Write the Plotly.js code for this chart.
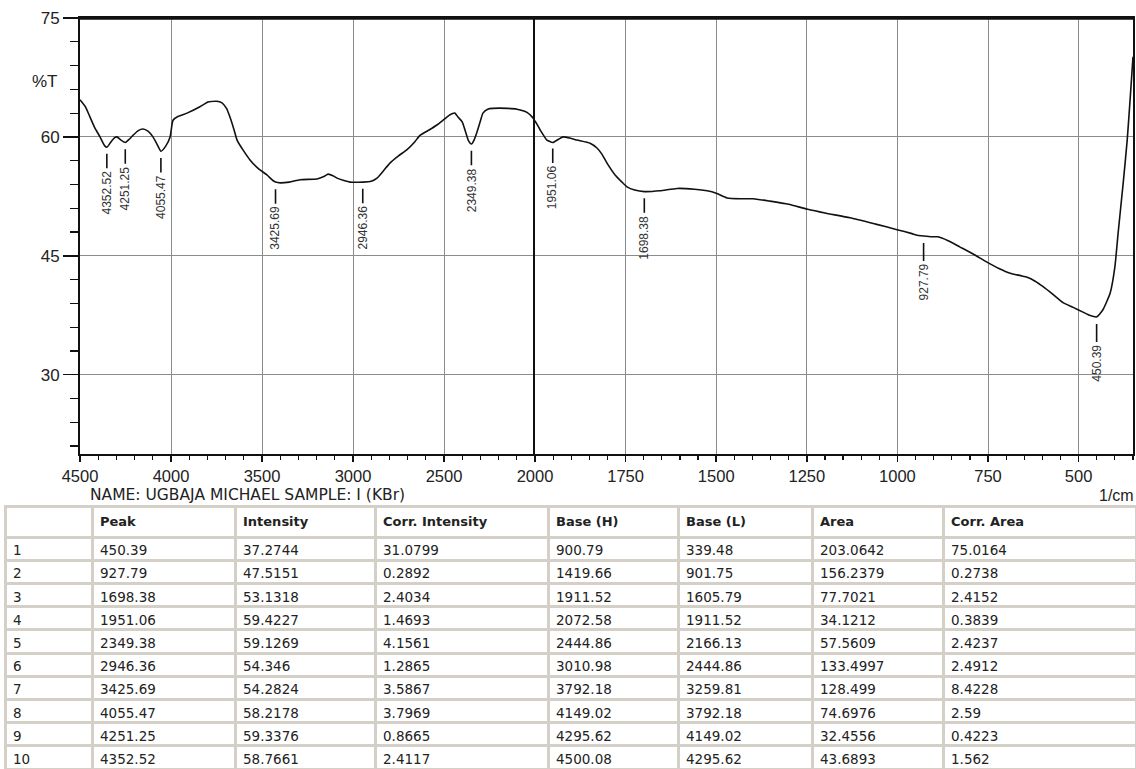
<!DOCTYPE html>
<html>
<head>
<meta charset="utf-8">
<script src="https://cdn.plot.ly/plotly-3.0.1.min.js"></script>
<style>html,body{margin:0;padding:0;background:#fff;}#chart{width:1136px;height:769px;}</style>
</head>
<body>
<div id="chart"></div>
<script>
// Spectrum (wavenumber 1/cm, %T)
const wavenumber = [4500,4470,4445,4420,4390,4365,4352,4335,4310,4297,4275,4251,4230,4209,4180,4154,4125,4099,4075,4055,4030,4005,3989,3960,3912,3841,3797,3750,3720,3695,3676,3655,3637,3600,3566,3520,3473,3440,3425,3400,3350,3291,3198,3160,3137,3110,3088,3050,3016,2946,2900,2868,2830,2797,2750,2703,2660,2632,2580,2539,2500,2467,2440,2423,2400,2385,2365,2349,2335,2319,2300,2286,2260,2231,2150,2099,2044,2011,2000,1986,1967,1951,1935,1923,1900,1884,1848,1829,1815,1800,1779,1760,1746,1725,1698,1655,1608,1560,1525,1500,1470,1430,1398,1352,1300,1250,1200,1131,1060,1001,960,945,928,905,888,860,827,790,753,720,689,660,642,620,598,570,543,515,488,470,450,433,413,400,391,377,366,358,350];
const transmittance = [64.7,63.8,62.5,61.2,60.0,58.9,58.7,59.2,59.9,60.0,59.6,59.3,59.7,60.2,60.8,61.0,60.7,60.0,59.0,58.2,58.8,60.0,62.1,62.6,63.0,63.8,64.4,64.5,64.3,63.6,62.5,61.0,59.6,58.2,57.1,56.0,55.2,54.5,54.3,54.2,54.3,54.6,54.7,55.0,55.3,55.1,54.8,54.5,54.3,54.3,54.4,54.8,55.8,56.7,57.6,58.4,59.4,60.2,60.9,61.5,62.2,62.8,63.0,62.5,61.9,60.9,59.5,59.1,59.6,60.6,62.0,63.0,63.5,63.6,63.6,63.5,63.1,62.4,62.0,60.9,59.6,59.3,59.7,60.0,59.8,59.6,59.2,58.6,57.8,56.6,55.2,54.3,53.7,53.3,53.1,53.2,53.5,53.4,53.2,52.9,52.3,52.2,52.2,51.9,51.5,50.9,50.4,49.8,49.0,48.3,47.8,47.6,47.5,47.4,47.4,46.9,46.1,45.2,44.2,43.4,42.8,42.5,42.3,41.8,41.1,40.1,39.1,38.5,37.9,37.5,37.3,38.2,40.3,43.6,47.9,54.2,59.6,64.7,70.1];

// Peak table
const rowNo = [1,2,3,4,5,6,7,8,9,10];
const peak = [450.39,927.79,1698.38,1951.06,2349.38,2946.36,3425.69,4055.47,4251.25,4352.52];
const intensity = [37.2744,47.5151,53.1318,59.4227,59.1269,54.346,54.2824,58.2178,59.3376,58.7661];
const corrIntensity = [31.0799,0.2892,2.4034,1.4693,4.1561,1.2865,3.5867,3.7969,0.8665,2.4117];
const baseH = [900.79,1419.66,1911.52,2072.58,2444.86,3010.98,3792.18,4149.02,4295.62,4500.08];
const baseL = [339.48,901.75,1605.79,1911.52,2166.13,2444.86,3259.81,3792.18,4149.02,4295.62];
const area = [203.0642,156.2379,77.7021,34.1212,57.5609,133.4997,128.499,74.6976,32.4556,43.6893];
const corrArea = [75.0164,0.2738,2.4152,0.3839,2.4237,2.4912,8.4228,2.59,0.4223,1.562];
const headers = ['', 'Peak', 'Intensity', 'Corr. Intensity', 'Base (H)', 'Base (L)', 'Area', 'Corr. Area'];

const leftTicks = [4500,4000,3500,3000,2500,2000];
const rightTicks = [1750,1500,1250,1000,750,500];
const yTicks = [30,45,60,75];

const FONT = 'Liberation Sans, Arial, sans-serif';
const WIDEFONT = 'DejaVu Sans, Verdana, sans-serif';
const W = 1136, H = 769;
const xL = 80/W, xM = 535/W, xR = 1133/W;
const yB = (H-454)/H, yT = (H-18)/H;

const curve = {x: wavenumber, y: transmittance, mode: 'lines', line: {color: '#111', width: 1.6, shape: 'spline', smoothing: 0.5}, hoverinfo: 'x+y', showlegend: false};
const traces = [
  Object.assign({}, curve, {xaxis: 'x', yaxis: 'y'}),
  Object.assign({}, curve, {xaxis: 'x2', yaxis: 'y2'}),
  {
    type: 'table',
    domain: {x: [5/W, 1], y: [0, (H-506)/H]},
    columnwidth: [87,143,140,173,130,134,131,193],
    header: {
      values: headers.map(h => '<b>' + h + '</b>'),
      align: 'left', height: 23,
      fill: {color: '#ffffff'},
      line: {color: '#d4d0c8', width: 3},
      font: {family: WIDEFONT, size: 13, color: '#222'}
    },
    cells: {
      values: [rowNo, peak, intensity, corrIntensity, baseH, baseL, area, corrArea],
      align: 'left', height: 23.2,
      fill: {color: '#ffffff'},
      line: {color: '#d4d0c8', width: 3},
      font: {family: WIDEFONT, size: 13.5, color: '#222'}
    }
  }
];

const annotations = [];
peak.forEach((p, i) => {
  const right = p < 2000;
  annotations.push({
    xref: right ? 'x2' : 'x', yref: right ? 'y2' : 'y',
    x: p, y: intensity[i],
    text: p.toFixed(2), textangle: -90,
    font: {family: FONT, size: 12, color: '#333'},
    showarrow: true, arrowhead: 0, arrowwidth: 1.6, arrowcolor: '#111',
    ax: 0, ay: 46, standoff: 7, borderpad: 2
  });
});
annotations.push(
  {xref: 'paper', yref: 'paper', x: 45/W, y: (H-82)/H, text: '%T', showarrow: false, xanchor: 'center', yanchor: 'middle', font: {family: FONT, size: 17, color: '#222'}},
  {xref: 'paper', yref: 'paper', x: 88/W, y: (H-495)/H, text: 'NAME: UGBAJA MICHAEL SAMPLE: I (KBr)', showarrow: false, xanchor: 'left', yanchor: 'middle', font: {family: WIDEFONT, size: 15.5, color: '#222'}},
  {xref: 'paper', yref: 'paper', x: 1, y: (H-495)/H, text: '1/cm', showarrow: false, xanchor: 'right', yanchor: 'middle', font: {family: FONT, size: 16, color: '#222'}}
);

const xCommon = {
  ticks: 'outside', ticklen: 6, tickwidth: 1.5, tickcolor: '#111',
  showgrid: true, gridcolor: '#8c8c8c', gridwidth: 1,
  showline: true, linecolor: '#111', linewidth: 2, mirror: true,
  zeroline: false, tickfont: {family: FONT, size: 16.5, color: '#222'},
  tickmode: 'array', fixedrange: true
};
const yCommon = {
  range: [20, 75], domain: [yB, yT], tickmode: 'array', tickvals: yTicks,
  showgrid: true, gridcolor: '#8c8c8c', gridwidth: 1,
  showline: true, linecolor: '#111', linewidth: 2, zeroline: false,
  tickfont: {family: FONT, size: 17, color: '#222'}, fixedrange: true
};

const layout = {
  width: W, height: H,
  margin: {l: 0, r: 0, t: 0, b: 0},
  paper_bgcolor: '#ffffff', plot_bgcolor: '#ffffff',
  showlegend: false,
  xaxis: Object.assign({}, xCommon, {domain: [xL, xM], range: [4500, 2000], tickvals: leftTicks, anchor: 'y',
    minor: {tickmode: 'linear', tick0: 0, dtick: 100, ticks: 'outside', ticklen: 4, tickwidth: 1.2, tickcolor: '#111', showgrid: false}}),
  xaxis2: Object.assign({}, xCommon, {domain: [xM, xR], range: [2000, 350], tickvals: rightTicks, anchor: 'y2',
    minor: {tickmode: 'linear', tick0: 0, dtick: 50, ticks: 'outside', ticklen: 4, tickwidth: 1.2, tickcolor: '#111', showgrid: false}}),
  yaxis: Object.assign({}, yCommon, {anchor: 'x', mirror: false, ticks: 'outside', ticklen: 15, tickwidth: 1.5, tickcolor: '#111',
    minor: {tickmode: 'linear', tick0: 0, dtick: 3, ticks: 'outside', ticklen: 8, tickwidth: 1.2, tickcolor: '#111', showgrid: false}}),
  yaxis2: Object.assign({}, yCommon, {anchor: 'x2', matches: 'y', mirror: true, showticklabels: false, ticks: ''}),
  shapes: [
    {type: 'line', xref: 'paper', yref: 'paper', x0: xL, x1: xR, y0: yT, y1: yT, line: {color: '#111', width: 3.5}}
  ],
  annotations: annotations
};

Plotly.newPlot('chart', traces, layout, {displayModeBar: false, staticPlot: true});
</script>
</body>
</html>
